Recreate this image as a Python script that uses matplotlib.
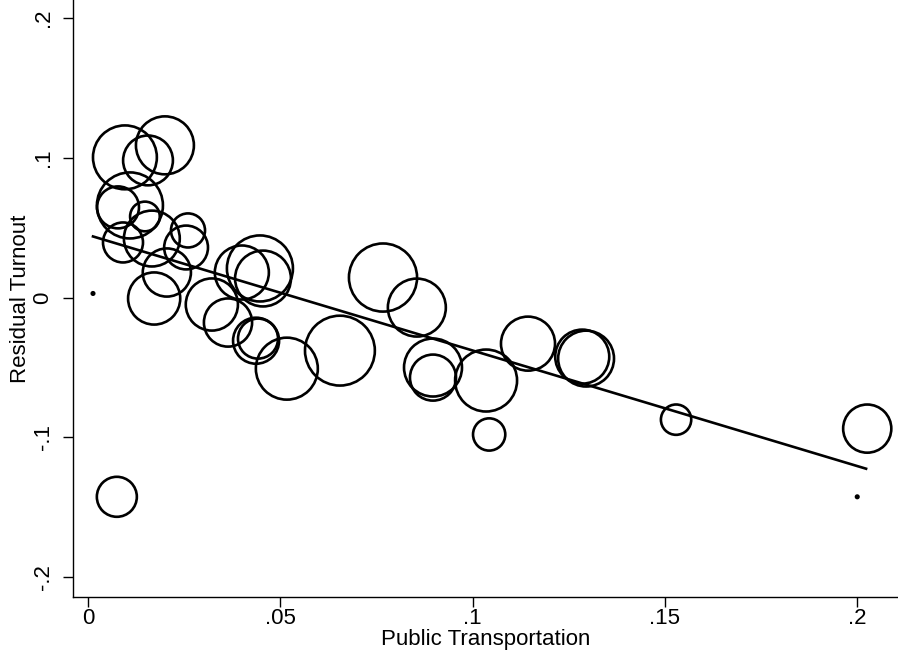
import numpy as np
import matplotlib
matplotlib.use("Agg")
import matplotlib.pyplot as plt

plt.rcParams['font.family'] = ['Liberation Sans', 'DejaVu Sans']

# share using public transportation vs residual turnout, marker area ~ weight
pub_trans = [0.0013, 0.0075, 0.0096, 0.0156, 0.0200, 0.0109, 0.0078, 0.0148,
             0.0091, 0.0166, 0.0260, 0.0255, 0.0205, 0.0172, 0.0322, 0.0364,
             0.0400, 0.0447, 0.0455, 0.0437, 0.0442, 0.0517, 0.0655, 0.0767,
             0.0855, 0.0897, 0.0897, 0.1035, 0.1043, 0.1144, 0.1285, 0.1295,
             0.1529, 0.2026, 0.2000]
resid_turnout = [0.0029, -0.1426, 0.1003, 0.0981, 0.1089, 0.0659, 0.0645, 0.0580,
                 0.0394, 0.0422, 0.0480, 0.0358, 0.0179, -0.0007, -0.0050, -0.0179,
                 0.0179, 0.0208, 0.0136, -0.0309, -0.0294, -0.0509, -0.0380, 0.0143,
                 -0.0072, -0.0501, -0.0573, -0.0594, -0.0980, -0.0330, -0.0423, -0.0437,
                 -0.0874, -0.0938, -0.1426]
weight = [0.015, 4.0, 10.2, 6.2, 8.4, 10.9, 4.4, 2.2,
          4.0, 7.8, 2.9, 4.8, 5.8, 6.8, 6.8, 5.8,
          7.3, 10.9, 7.8, 5.3, 4.0, 9.6, 12.2, 11.6,
          8.4, 8.4, 5.3, 9.6, 2.6, 7.3, 7.3, 7.8,
          2.3, 5.8, 0.015]

# fitted line end points
fit_x = [0.0013, 0.2023]
fit_y = [0.0437, -0.1225]

fig = plt.figure(figsize=(8.98, 6.6), dpi=100)
ax = fig.add_axes([73 / 898, 63 / 660, 1 - 73 / 898, 1 - 63 / 660])

px = 0.72  # points per pixel at 100 dpi
sizes = [w * 100 * (2 * px) ** 2 for w in weight]
ax.scatter(pub_trans, resid_turnout, s=sizes, facecolors='none',
           edgecolors='black', linewidths=1.9, zorder=2)
ax.plot(fit_x, fit_y, color='black', lw=1.9, zorder=3)

ax.set_xlim(-0.0039, 0.2106)
ax.set_ylim(-0.2143, 0.2129)
ax.set_xticks([0, 0.05, 0.1, 0.15, 0.2])
ax.set_xticklabels(['0', '.05', '.1', '.15', '.2'])
ax.set_yticks([-0.2, -0.1, 0, 0.1, 0.2])
ax.set_yticklabels(['-.2', '-.1', '0', '.1', '.2'], rotation=90, va='center')

for side in ['top', 'right']:
    ax.spines[side].set_visible(False)
for side in ['left', 'bottom']:
    ax.spines[side].set_linewidth(1.0)
ax.tick_params(direction='out', length=7, width=1.0, labelsize=16)
ax.tick_params(axis='x', pad=1)
ax.tick_params(axis='y', pad=7)

ax.set_xlabel('Public Transportation', fontsize=16, labelpad=0)
ax.set_ylabel('Residual Turnout', fontsize=16)
ax.yaxis.set_label_coords(-0.051, 0.5)

fig.savefig('out.png', dpi=100, facecolor='white')
